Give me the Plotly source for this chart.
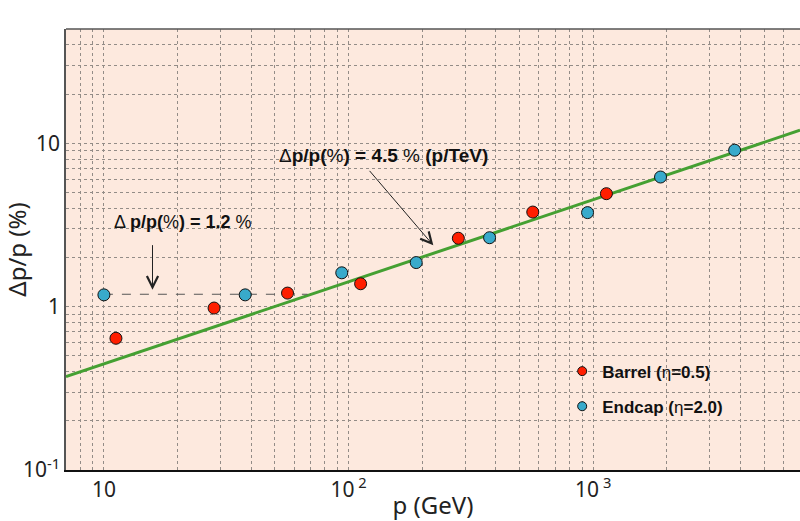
import plotly.graph_objects as go
import math

# ---- data ----
barrel_p = [11.2, 28.2, 56.3, 112, 281, 566, 1132]
barrel_res = [0.64, 0.98, 1.21, 1.38, 2.62, 3.79, 4.91]

endcap_p = [10.0, 37.8, 93.8, 189, 377, 948, 1884, 3784]
endcap_res = [1.18, 1.18, 1.61, 1.86, 2.64, 3.76, 6.21, 9.06]

fit_p = [7, 7000]
fit_res = [0.373, 12.0]

const_p = [10, 68]
const_res = [1.19, 1.19]

x_tickvals = [8, 9, 10, 20, 30, 40, 50, 60, 70, 80, 90, 100, 200, 300, 400, 500, 600, 700, 800, 900,
              1000, 2000, 3000, 4000, 5000, 6000, 7000]
x_ticktext = {10: "10", 100: "10<sup> 2</sup>", 1000: "10<sup> 3</sup>"}
y_tickvals = [0.1, 0.2, 0.3, 0.4, 0.5, 0.6, 0.7, 0.8, 0.9, 1, 2, 3, 4, 5, 6, 7, 8, 9, 10, 20, 30, 40, 50]
y_ticktext = {0.1: "10<sup>-1</sup>", 1: "1", 10: "10"}

RED = "#ff1e00"
BLUE = "#38aacb"
GREEN = "#45a032"
BG = "#fde9de"
GRID = "#938c87"

fig = go.Figure()

fig.add_trace(go.Scatter(x=fit_p, y=fit_res, mode="lines",
                         line=dict(color=GREEN, width=3), showlegend=False, hoverinfo="skip"))
fig.add_trace(go.Scatter(x=const_p, y=const_res, mode="lines",
                         line=dict(color="#555555", width=1, dash="dash"), showlegend=False, hoverinfo="skip"))
fig.add_trace(go.Scatter(x=barrel_p, y=barrel_res, mode="markers",
                         marker=dict(color=RED, size=12, line=dict(color="#111111", width=1)),
                         showlegend=False))
fig.add_trace(go.Scatter(x=endcap_p, y=endcap_res, mode="markers",
                         marker=dict(color=BLUE, size=12, line=dict(color="#111111", width=1)),
                         showlegend=False))
# legend entries
fig.add_trace(go.Scatter(x=[None], y=[None], mode="markers", name="<b>Barrel (</b>η<b>=0.5)</b>",
                         legendgroup="a",
                         marker=dict(color=RED, size=9, line=dict(color="#111111", width=1))))
fig.add_trace(go.Scatter(x=[None], y=[None], mode="markers", name="<b>Endcap (</b>η<b>=2.0)</b>",
                         legendgroup="b",
                         marker=dict(color=BLUE, size=9, line=dict(color="#111111", width=1))))

fig.update_layout(
    width=800, height=521,
    margin=dict(l=66, r=0, t=29, b=51),
    paper_bgcolor="white",
    plot_bgcolor=BG,
    font=dict(family="Noto Sans, sans-serif", color="#222222"),
    legend=dict(x=0.676, y=0.264, xanchor="left", yanchor="top", bgcolor="rgba(0,0,0,0)",
                font=dict(family="Liberation Sans, Arial, sans-serif", size=17, color="#111111"),
                tracegroupgap=10, itemwidth=30),
    xaxis=dict(
        type="log", range=[math.log10(7), math.log10(7000)],
        tickvals=x_tickvals, ticktext=[x_ticktext.get(v, "") for v in x_tickvals],
        showgrid=True, gridcolor=GRID, gridwidth=1, griddash="dot",
        showline=True, linecolor="#111111", linewidth=1.5, mirror=False,
        ticks="", tickfont=dict(size=21, color="#222222"),
        title=dict(text="p (GeV)", font=dict(size=24, color="#222222"), standoff=2),
        zeroline=False,
    ),
    yaxis=dict(
        type="log", range=[-1, math.log10(50)],
        tickvals=y_tickvals, ticktext=[y_ticktext.get(v, "") for v in y_tickvals],
        showgrid=True, gridcolor=GRID, gridwidth=1, griddash="3px,3px",
        showline=True, linecolor="#555555", linewidth=1.5, mirror=False,
        ticks="", tickfont=dict(size=21, color="#222222"),
        title=dict(text="Δp/p (%)", font=dict(size=24, color="#222222"), standoff=4),
        zeroline=False,
    ),
    shapes=[dict(type="line", xref="paper", yref="paper", x0=0, x1=1, y0=1, y1=1,
                 line=dict(color="#555555", width=1.5))],
)

ann_font = dict(family="Liberation Sans, Arial, sans-serif", size=18, color="#111111")
fig.add_annotation(xref="paper", yref="paper", x=0.159, y=0.562, xanchor="center", yanchor="middle",
                   showarrow=False, text="Δ <b>p/p(</b>%<b>) = 1.2</b> %", font=ann_font)
fig.add_annotation(xref="paper", yref="paper", x=0.432, y=0.714, xanchor="center", yanchor="middle",
                   showarrow=False, text="Δ<b>p/p(</b>%<b>) = 4.5</b> % <b>(p/TeV)</b>",
                   font=dict(family="Liberation Sans, Arial, sans-serif", size=19, color="#111111"))
# arrows
fig.add_annotation(x=math.log10(15.8), y=math.log10(1.27), xref="x", yref="y", text="",
                   showarrow=True, arrowhead=5, arrowsize=2.2, arrowwidth=1, arrowcolor="#222222",
                   ax=0, ay=-46)
fig.add_annotation(x=math.log10(222), y=math.log10(2.37), xref="x", yref="y", text="",
                   showarrow=True, arrowhead=5, arrowsize=2.2, arrowwidth=1, arrowcolor="#222222",
                   ax=-65, ay=-76)

fig.write_html("out.html", config={"displayModeBar": False},
               post_script="document.body.style.margin='0';document.body.style.padding='0';")
